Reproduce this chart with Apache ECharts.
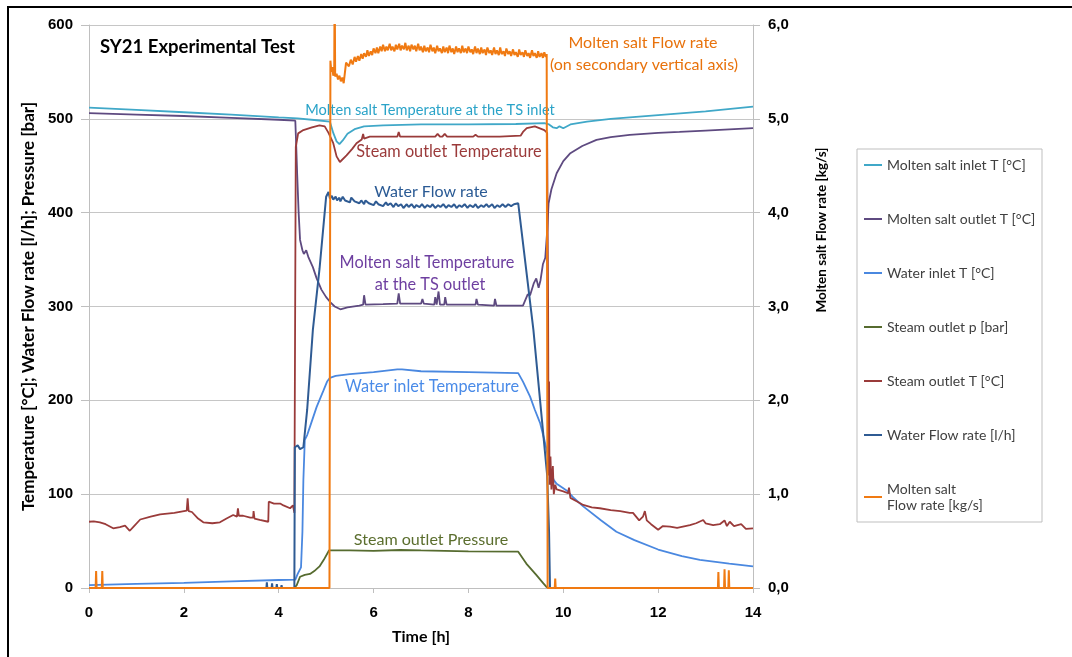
<!DOCTYPE html>
<html><head><meta charset="utf-8">
<script src="https://cdn.jsdelivr.net/npm/echarts@6/dist/echarts.min.js"></script>
<style>html,body{margin:0;padding:0;background:#fff}#c{width:1072px;height:657px}</style>
</head><body><div id="c"></div>
<script>
// ---- data (time [h], value) ----
const seriesNames = ['Molten salt inlet T [°C]','Molten salt outlet T [°C]','Water inlet T [°C]','Steam outlet p [bar]','Steam outlet T [°C]','Water Flow rate [l/h]','Molten salt\nFlow rate [kg/s]'];
const msInletT = [[0,512],[1,509.5],[2,507],[3,504.5],[4,501.5],[4.4,500.5],[4.8,498.5],[5.08,497],[5.15,485],[5.22,476],[5.28,473],[5.35,477],[5.45,484],[5.6,489],[5.8,492],[6.2,493],[7,494],[8,494],[9,494.5],[9.6,495.5],[9.7,494],[9.78,491],[9.86,490],[9.92,492],[10.0,490],[10.15,494],[10.5,497],[11,500],[12,504],[13,508],[14,513]];
const msOutletT = [[0,506],[1,504.5],[2,503],[3,501],[4,499],[4.35,498],[4.37,470],[4.39,440],[4.42,400],[4.45,371],[4.5,360],[4.53,356],[4.58,360],[4.63,352],[4.72,342],[4.8,330],[4.9,318],[5.0,310],[5.08,305],[5.18,300],[5.3,297],[5.45,299],[5.7,301],[5.78,302],[5.8,312],[5.83,302],[6.2,302.5],[6.5,303],[6.53,314],[6.56,303],[7.0,303],[7.03,308],[7.06,303],[7.28,302],[7.3,310],[7.33,302],[7.37,316],[7.4,302],[7.49,302],[7.51,310],[7.54,302],[8.15,302],[8.17,308],[8.2,302],[8.54,301],[8.56,308],[8.59,301],[9.15,301],[9.25,313],[9.3,312],[9.38,325],[9.43,330],[9.48,320],[9.52,328],[9.57,345],[9.62,352],[9.66,380],[9.69,410],[9.75,425],[9.86,442],[10.0,455],[10.14,463],[10.4,471],[10.7,477.5],[11,480.5],[11.4,483],[12,485],[12.45,486],[13,487.5],[14,490]];
const waterInletT = [[0,3],[1,4.5],[2,5.5],[3,7],[4,8.5],[4.35,9],[4.4,15],[4.47,22],[4.5,60],[4.52,115],[4.55,158],[4.6,163],[4.66,172],[4.8,193],[4.94,210],[5.02,220],[5.08,224],[5.2,226],[5.5,228],[6,230],[6.5,233],[6.6,233],[6.63,231],[7,231],[8,230],[9.05,229],[9.15,220],[9.3,204],[9.4,190],[9.51,176],[9.6,158],[9.65,147],[9.72,126],[9.8,115],[9.86,111],[10.07,104],[10.2,97],[10.42,87],[10.8,72],[11.12,60],[11.5,51],[12,41],[12.5,34],[12.88,30],[13.5,26],[14,23]];
const steamP = [[0,0],[4.33,0],[4.38,3],[4.45,12],[4.55,14],[4.66,15],[4.75,18],[4.86,23],[4.95,30],[5.06,40],[5.5,40],[6,39.5],[6.56,40.5],[7,40],[8,39],[9.05,38.7],[9.22,26],[9.43,14],[9.58,5],[9.65,1],[9.7,0],[14,0]];
const steamT = [[0,70.6],[0.1,71],[0.23,70],[0.35,68],[0.51,63.6],[0.65,65],[0.76,66.4],[0.86,61],[0.95,66],[1.08,73],[1.3,76],[1.5,78.5],[1.8,80],[2.06,82.4],[2.08,95.6],[2.1,82],[2.17,81],[2.3,74],[2.41,70],[2.6,69],[2.76,70],[2.9,74],[3.04,77.8],[3.12,76],[3.14,85],[3.16,77],[3.25,77],[3.4,75],[3.46,75],[3.47,82],[3.49,74],[3.6,72.5],[3.78,70.6],[3.79,92],[3.9,90],[4.03,90],[4.1,88],[4.24,85],[4.3,88],[4.33,80],[4.35,80],[4.36,470],[4.41,484.5],[4.52,488],[4.7,491],[4.86,493],[4.97,492],[5.05,485],[5.15,474],[5.22,460],[5.29,454],[5.43,461],[5.55,468],[5.64,474],[5.75,478],[5.78,484],[5.8,479],[5.92,481],[6.5,481],[6.53,486],[6.56,481],[7.0,481],[7.3,481],[7.35,484],[7.4,481],[7.45,481],[7.5,484],[7.55,481],[8.1,481],[8.15,483],[8.2,481],[8.6,481],[8.63,483],[8.66,481],[9.1,482],[9.15,486],[9.23,490],[9.4,492],[9.6,488],[9.66,485],[9.68,300],[9.69,120],[9.7,220],[9.71,110],[9.73,140],[9.75,105],[9.78,130],[9.8,100],[9.83,110],[9.86,105],[10.0,103],[10.1,101],[10.12,107],[10.15,96],[10.3,92],[10.42,88.5],[10.6,86],[10.77,85],[11.0,83],[11.2,82],[11.4,80],[11.47,80],[11.6,72],[11.68,76],[11.72,82],[11.76,72],[11.85,68],[12.0,62],[12.1,66],[12.25,65.5],[12.4,64],[12.67,67],[12.8,69],[12.95,72.5],[13.0,69],[13.16,67],[13.3,68],[13.4,72],[13.45,66],[13.51,70.6],[13.6,66],[13.75,68],[13.85,63],[14,63.6]];
const waterFlow = [[0,0],[3.74,0],[3.75,6],[3.76,0],[3.85,0],[3.86,5],[3.87,0],[3.95,0],[3.96,4],[3.97,0],[4.05,0],[4.06,3],[4.07,0],[4.33,0],[4.34,150],[4.4,152],[4.45,148],[4.52,150],[4.6,190],[4.72,275],[4.86,340],[5.0,417],[5.05,422],[5.08,415],[5.12,418],[5.15,414],[5.2,417],[5.23,413],[5.28,416],[5.3,412],[5.35,417],[5.4,413],[5.43,415],[5.5,411],[5.53,416],[5.6,412],[5.64,414],[5.7,410],[5.74,413],[5.8,409],[5.83,413],[5.9,410],[5.93,412],[6.0,408],[6.05,412],[6.1,409],[6.13,411],[6.2,407],[6.26,411],[6.3,408],[6.36,410],[6.42,406],[6.47,410],[6.52,407],[6.58,409],[6.63,405],[6.7,409],[6.74,406],[6.8,409],[6.86,405],[6.9,408],[6.97,406],[7.02,409],[7.08,405],[7.13,408],[7.2,406],[7.24,409],[7.3,405],[7.36,408],[7.41,406],[7.47,409],[7.53,405],[7.58,408],[7.64,406],[7.7,409],[7.75,405],[7.81,408],[7.86,406],[7.92,409],[7.98,405],[8.03,408],[8.1,406],[8.15,409],[8.2,405],[8.27,408],[8.32,406],[8.38,409],[8.43,406],[8.5,409],[8.55,405],[8.61,408],[8.66,406],[8.72,409],[8.78,406],[8.84,409],[8.9,407],[8.96,409],[9.0,407],[9.05,410],[9.37,275],[9.61,147],[9.66,120],[9.7,60],[9.72,0],[14,0]];
const saltFlow = [[0,0],[0.14,0],[0.15,0.18],[0.16,0],[0.27,0],[0.28,0.18],[0.29,0],[5.07,0],[5.09,5.62],[5.11,5.5],[5.13,5.55],[5.15,5.46],[5.17,5.5],[5.18,6.5],[5.19,5.45],[5.22,5.48],[5.25,5.42],[5.28,5.46],[5.31,5.4],[5.34,5.44],[5.37,5.38],[5.4,5.36],[5.42,5.6],[5.45,5.6],[5.48,5.56],[5.52,5.63],[5.56,5.58],[5.6,5.66],[5.63,5.61],[5.67,5.67],[5.7,5.62],[5.74,5.69],[5.77,5.64],[5.8,5.7],[5.84,5.66],[5.87,5.73],[5.9,5.67],[5.94,5.72],[5.97,5.68],[6.0,5.75],[6.04,5.7],[6.07,5.76],[6.1,5.7],[6.14,5.77],[6.17,5.72],[6.2,5.79],[6.24,5.72],[6.27,5.77],[6.3,5.73],[6.34,5.8],[6.37,5.73],[6.4,5.77],[6.44,5.72],[6.47,5.79],[6.5,5.74],[6.54,5.8],[6.57,5.73],[6.6,5.78],[6.64,5.74],[6.67,5.81],[6.7,5.73],[6.74,5.78],[6.77,5.72],[6.8,5.79],[6.84,5.74],[6.87,5.78],[6.9,5.72],[6.94,5.8],[6.97,5.73],[7.0,5.77],[7.04,5.71],[7.07,5.78],[7.1,5.72],[7.14,5.76],[7.17,5.71],[7.2,5.79],[7.24,5.72],[7.27,5.76],[7.3,5.7],[7.34,5.78],[7.37,5.72],[7.4,5.75],[7.44,5.7],[7.47,5.77],[7.5,5.71],[7.54,5.76],[7.57,5.7],[7.6,5.78],[7.64,5.71],[7.67,5.75],[7.7,5.69],[7.74,5.77],[7.77,5.71],[7.8,5.75],[7.84,5.7],[7.87,5.78],[7.9,5.71],[7.94,5.75],[7.97,5.7],[8.0,5.77],[8.04,5.71],[8.07,5.74],[8.1,5.69],[8.14,5.77],[8.17,5.7],[8.2,5.75],[8.24,5.69],[8.27,5.76],[8.3,5.7],[8.34,5.74],[8.37,5.68],[8.4,5.76],[8.44,5.7],[8.47,5.73],[8.5,5.68],[8.54,5.76],[8.57,5.69],[8.6,5.73],[8.64,5.68],[8.67,5.76],[8.7,5.69],[8.74,5.72],[8.77,5.67],[8.8,5.75],[8.84,5.69],[8.87,5.72],[8.9,5.67],[8.94,5.74],[8.97,5.68],[9.0,5.71],[9.04,5.66],[9.07,5.74],[9.1,5.68],[9.14,5.71],[9.17,5.66],[9.2,5.73],[9.24,5.67],[9.27,5.7],[9.3,5.65],[9.34,5.73],[9.37,5.67],[9.4,5.7],[9.44,5.65],[9.47,5.72],[9.5,5.66],[9.54,5.7],[9.57,5.65],[9.6,5.71],[9.63,5.66],[9.65,5.69],[9.67,0],[9.82,0],[9.83,0.1],[9.84,0],[13.26,0],[13.27,0.17],[13.28,0],[13.39,0],[13.4,0.2],[13.41,0],[13.48,0],[13.49,0.19],[13.5,0],[14,0]];
const seriesData = [msInletT, msOutletT, waterInletT, steamP, steamT, waterFlow, saltFlow];
const seriesColors = ['#40a8c8','#5e4a80','#4a88e0','#566b2f','#9a3b3a','#2f5b93','#f07a12'];
const seriesAxis = [0,0,0,0,0,0,1];

// annotation texts
const annotations = [
  {text:'SY21 Experimental Test', x:100, y:47, color:'#000', size:18.5, weight:'bold', align:'left'},
  {text:'Molten salt Flow rate', x:643, y:43, color:'#e8720c', size:16, align:'center'},
  {text:'(on secondary vertical axis)', x:644, y:65, color:'#e8720c', size:16, align:'center'},
  {text:'Molten salt Temperature at the TS inlet', x:430, y:110, color:'#2aa3c8', size:14.6, align:'center'},
  {text:'Steam outlet Temperature', x:449, y:152, color:'#9b3a3a', size:16.3, align:'center'},
  {text:'Water Flow rate', x:431, y:192, color:'#2a5a94', size:16, align:'center'},
  {text:'Molten salt Temperature', x:427, y:263, color:'#6e3fa0', size:16.3, align:'center'},
  {text:'at the TS outlet', x:430, y:285, color:'#6e3fa0', size:16.3, align:'center'},
  {text:'Water inlet Temperature', x:432, y:387, color:'#4a8be8', size:16.3, align:'center'},
  {text:'Steam outlet Pressure', x:431, y:540, color:'#5b6e2e', size:16.1, align:'center'}
];

const chart = echarts.init(document.getElementById('c'), null, {renderer:'canvas'});
const labelFont = 'Liberation Sans, Arial, sans-serif';
const textFont = 'Lato, sans-serif';

const graphic = [
  {type:'rect', shape:{x:8,y:7,width:1200,height:800}, style:{fill:'none',stroke:'#000',lineWidth:2}, z:0, silent:true},
  {type:'rect', shape:{x:857,y:149,width:185,height:373}, style:{fill:'#fff',stroke:'#bfbfbf',lineWidth:1}, z:0, silent:true},
  {type:'text', x:822, y:230, rotation:Math.PI/2, style:{text:'Molten salt Flow rate [kg/s]', font:'bold 13.5px '+textFont, fill:'#000', align:'center', verticalAlign:'middle'}, z:1}
];
annotations.forEach(a => graphic.push({
  type:'text', x:a.x, y:a.y, z:1, silent:true,
  style:{text:a.text, fill:a.color, font:(a.weight||'normal')+' '+a.size+'px '+textFont, align:a.align, verticalAlign:'middle'}
}));

chart.setOption({
  animation:false,
  backgroundColor:'#fff',
  grid:{left:89, right:319, top:25, bottom:69},
  legend:{
    orient:'vertical', left:864, top:157, padding:0, itemGap:38, itemWidth:18, itemHeight:2, icon:'rect',
    textStyle:{fontFamily:textFont, fontSize:14, color:'#404040', lineHeight:16},
    data:seriesNames, selectedMode:false
  },
  xAxis:{
    type:'value', min:0, max:14, interval:2,
    name:'Time [h]', nameLocation:'middle', nameGap:41,
    nameTextStyle:{fontFamily:textFont, fontWeight:'bold', fontSize:16, color:'#000'},
    axisLine:{show:true, onZero:false, lineStyle:{color:'#bfbfbf', width:1}},
    axisTick:{show:true, length:5, lineStyle:{color:'#bfbfbf'}},
    axisLabel:{fontFamily:labelFont, fontWeight:'bold', fontSize:15, color:'#000', margin:17},
    splitLine:{show:false}
  },
  yAxis:[
    {type:'value', min:0, max:600, interval:100, position:'left',
     name:'Temperature [°C]; Water Flow rate [l/h]; Pressure [bar]', nameLocation:'middle', nameGap:42,
     nameTextStyle:{fontFamily:textFont, fontWeight:'bold', fontSize:17, color:'#000'},
     axisLine:{show:true, lineStyle:{color:'#bfbfbf'}},
     axisTick:{show:true, length:8, lineStyle:{color:'#bfbfbf'}},
     axisLabel:{fontFamily:labelFont, fontWeight:'bold', fontSize:15, color:'#000', margin:16},
     splitLine:{show:true, lineStyle:{color:'#c6c6c6', width:1}}},
    {type:'value', min:0, max:6, interval:1, position:'right',
     axisLine:{show:true, lineStyle:{color:'#bfbfbf'}},
     axisTick:{show:true, length:7, lineStyle:{color:'#bfbfbf'}},
     axisLabel:{fontFamily:labelFont, fontWeight:'bold', fontSize:15, color:'#000', margin:15,
       formatter:v => v.toFixed(1).replace('.', ',')},
     splitLine:{show:false}}
  ],
  series: seriesNames.map((n,i) => ({
    name:n, type:'line', yAxisIndex:seriesAxis[i], data:seriesData[i],
    symbol:'none', showSymbol:false, clip:true,
    lineStyle:{color:seriesColors[i], width:(i===5||i===6)?2:1.8},
    itemStyle:{color:seriesColors[i]}, z:3
  })),
  graphic:graphic
});
</script>
</body></html>
